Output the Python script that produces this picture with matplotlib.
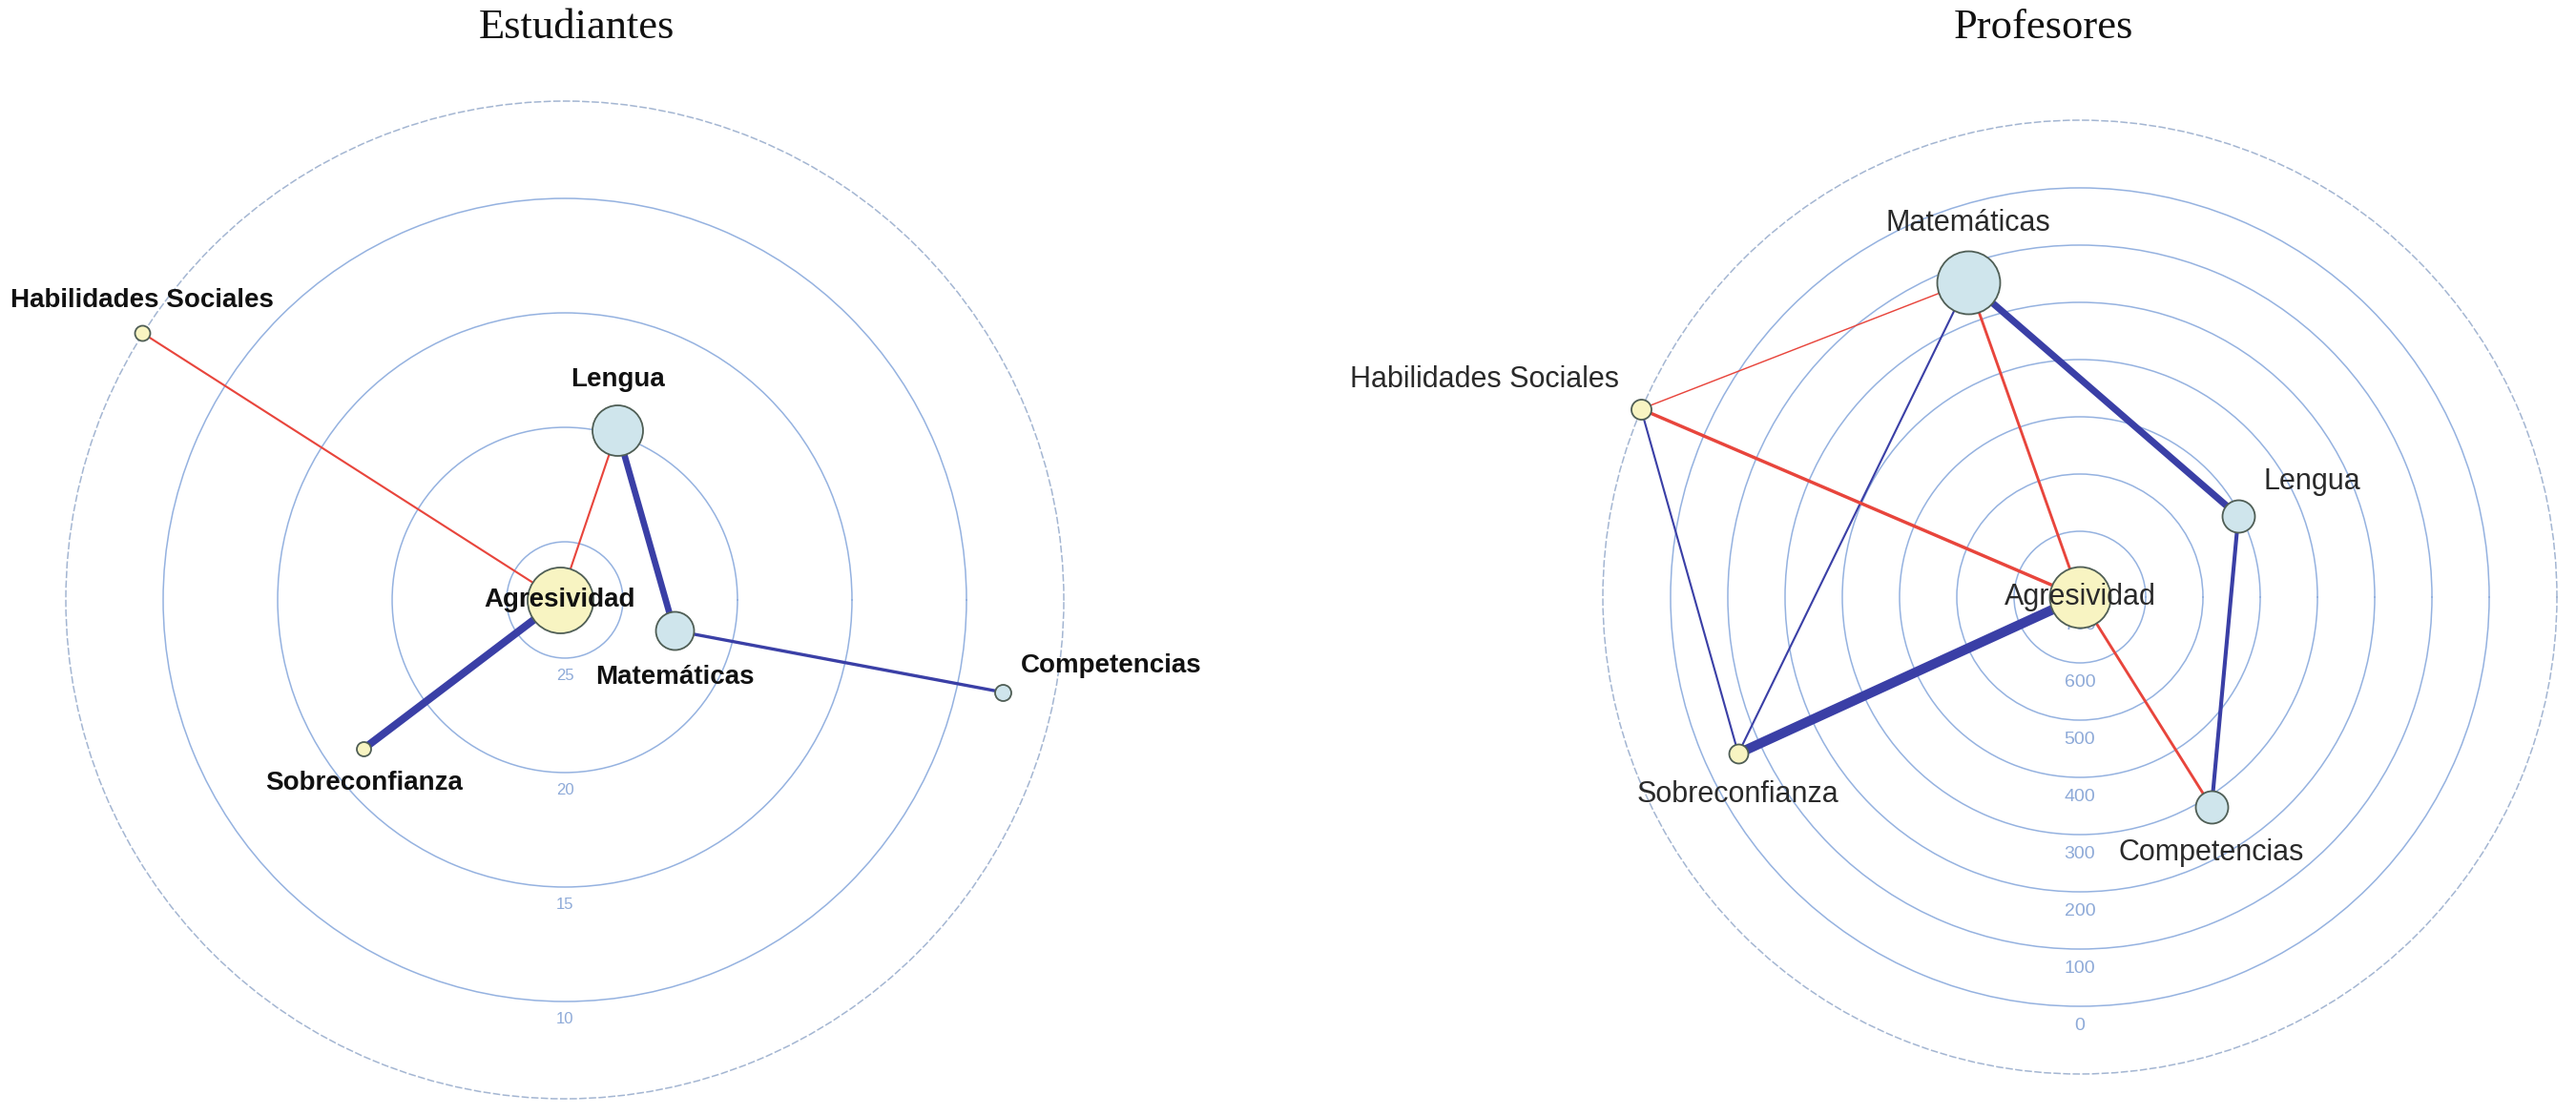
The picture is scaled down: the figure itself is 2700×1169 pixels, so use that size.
import numpy as np
import matplotlib
matplotlib.use("Agg")
import matplotlib.pyplot as plt

# ------------------------------------------------------------------ data
nodes = ["Agresividad", "Lengua", "Matemáticas", "Competencias",
         "Sobreconfianza", "Habilidades Sociales"]

# Estudiantes
est_angle_deg = [180.0, 72.8, -15.6, -11.9, 216.5, 147.7]
est_value = [27.33, 19.78, 22.57, 8.0, 16.61, 5.71]
est_rings = [25, 20, 15, 10]
est_edge_from = ["Agresividad", "Agresividad", "Lengua", "Matemáticas", "Agresividad"]
est_edge_to = ["Habilidades Sociales", "Lengua", "Matemáticas", "Competencias", "Sobreconfianza"]
est_edge_weight = [-0.19, -0.19, 0.60, 0.30, 0.72]

# Profesores
prof_angle_deg = [90.0, 27.1, 109.5, -57.9, 204.6, 156.8]
prof_value = [715.0, 404.0, 130.8, 282.0, 58.7, -119.0]
prof_rings = [0, 100, 200, 300, 400, 500, 600, 700]
prof_edge_from = ["Matemáticas", "Matemáticas", "Matemáticas", "Matemáticas",
                  "Habilidades Sociales", "Habilidades Sociales", "Sobreconfianza",
                  "Lengua", "Agresividad"]
prof_edge_to = ["Habilidades Sociales", "Agresividad", "Lengua", "Sobreconfianza",
                "Agresividad", "Sobreconfianza", "Agresividad",
                "Competencias", "Competencias"]
prof_edge_weight = [-0.13, -0.26, 0.64, 0.19, -0.31, 0.19, 0.92, 0.37, -0.26]

# ------------------------------------------------------------------ style
RING_C = "#95b2e0"
RLABEL_C = "#8eaad8"
DASH_C = "#a4b6d2"
POS_C = "#3a3fa6"
NEG_C = "#e8453c"
NODE_EC = "#4f5e55"
YELLOW = "#f8f4c2"
LBLUE = "#cfe5ec"
node_fill = {"Agresividad": YELLOW, "Sobreconfianza": YELLOW,
             "Habilidades Sociales": YELLOW, "Lengua": LBLUE,
             "Matemáticas": LBLUE, "Competencias": LBLUE}

# node radii in pixels (style)
est_node_px = [34.5, 26.5, 20, 8.5, 7.5, 8.0]
prof_node_px = [32, 17, 33, 17, 10, 10.5]

# label offsets (points) and alignment
est_lbl = {"Agresividad": (0, 0, "center"),
           "Lengua": (0, 38, "center"),
           "Matemáticas": (0, -35, "center"),
           "Competencias": (14, 20, "left"),
           "Sobreconfianza": (0, -26, "center"),
           "Habilidades Sociales": (0, 24.5, "center")}
prof_lbl = {"Agresividad": (0, 0, "center"),
            "Lengua": (19, 26, "left"),
            "Matemáticas": (0, 44.5, "center"),
            "Competencias": (0, -34.5, "center"),
            "Sobreconfianza": (0, -31, "center"),
            "Habilidades Sociales": (-16.5, 22, "right")}

W, H, DPI = 2700, 1169, 100
fig = plt.figure(figsize=(W / DPI, H / DPI), dpi=DPI)
fig.patch.set_facecolor("white")


def make_axes(cx, cy, rad, rlim):
    ax = fig.add_axes([(cx - rad) / W, (H - cy - rad) / H, 2 * rad / W, 2 * rad / H],
                      projection="polar")
    ax.set_ylim(*rlim)
    ax.set_xticks([])
    ax.set_facecolor("none")
    for k in ("start", "end", "inner"):
        if k in ax.spines:
            ax.spines[k].set_visible(False)
    sp = ax.spines["polar"]
    sp.set_color(DASH_C)
    sp.set_linewidth(1.1)
    sp.set_linestyle((0, (4, 2.6)))
    return ax


def draw(ax, angle_deg, value, rings, e_from, e_to, e_w, node_px, lbl,
         rl_size, rl_off, lbl_kw):
    ax.set_yticks(rings)
    ax.set_yticklabels([])
    ax.yaxis.grid(True, color=RING_C, linewidth=1.1)
    ax.xaxis.grid(False)
    ax.tick_params(axis="y", length=0)
    th = np.deg2rad(angle_deg)
    idx = {n: i for i, n in enumerate(nodes)}
    # ring labels
    for v in rings:
        ax.annotate(str(v), xy=(np.deg2rad(270), v), xytext=(0, -rl_off),
                    textcoords="offset points", ha="center", va="center",
                    fontsize=rl_size, color=RLABEL_C, family="Liberation Sans",
                    zorder=1, annotation_clip=False)
    # edges
    for a, b, w in zip(e_from, e_to, e_w):
        i, j = idx[a], idx[b]
        ax.plot([th[i], th[j]], [value[i], value[j]],
                color=POS_C if w > 0 else NEG_C, linewidth=8 * abs(w),
                solid_capstyle="butt", zorder=2, clip_on=False)
    # nodes
    for i, n in enumerate(nodes):
        s = (2 * node_px[i] * 72 / DPI) ** 2
        ax.scatter([th[i]], [value[i]], s=s, color=node_fill[n],
                   edgecolors=NODE_EC, linewidths=1.3, zorder=3, clip_on=False)
    # labels
    for i, n in enumerate(nodes):
        dx, dy, ha = lbl[n]
        ax.annotate(n, xy=(th[i], value[i]), xytext=(dx, dy),
                    textcoords="offset points", ha=ha, va="center",
                    zorder=5, annotation_clip=False, **lbl_kw)


axL = make_axes(592, 629, 523, (27.54, 5.75))
draw(axL, est_angle_deg, est_value, est_rings, est_edge_from, est_edge_to,
     est_edge_weight, est_node_px, est_lbl, 12, 13,
     dict(fontsize=20, fontweight="bold", color="#111111", family="Liberation Sans"))

axR = make_axes(2180, 626, 500, (715, -118.3))
draw(axR, prof_angle_deg, prof_value, prof_rings, prof_edge_from, prof_edge_to,
     prof_edge_weight, prof_node_px, prof_lbl, 14, 15,
     dict(fontsize=22, color="#2a2a2a", family="Liberation Sans"))

fig.text(604 / W, 1 - 40 / H, "Estudiantes", ha="center", va="baseline",
         fontsize=32, family="Liberation Serif", color="#111111")
fig.text(2142 / W, 1 - 40 / H, "Profesores", ha="center", va="baseline",
         fontsize=32, family="Liberation Serif", color="#111111")

fig.savefig("out.png", dpi=DPI, facecolor="white")
